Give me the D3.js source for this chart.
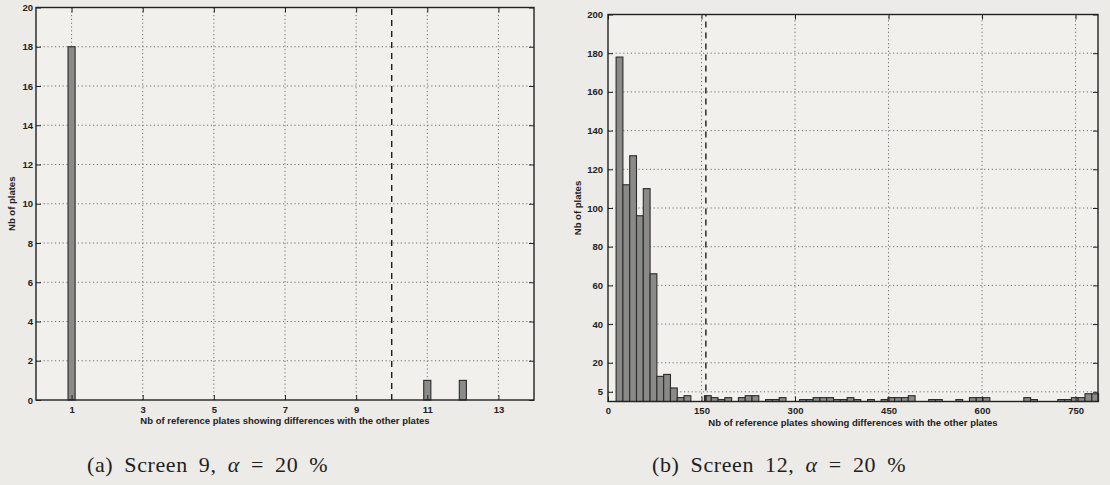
<!DOCTYPE html>
<html>
<head>
<meta charset="utf-8">
<script src="https://cdn.jsdelivr.net/npm/d3@7/dist/d3.min.js"></script>
<style>
  html, body { margin: 0; padding: 0; background: #ecebe7; }
  svg { display: block; }
  .tick text { font-family: "Liberation Sans", Arial, sans-serif; font-weight: bold; font-size: 9.5px; fill: #222; }
  .tick line { stroke: #222; stroke-width: 1; }
  .domain { display: none; }
</style>
</head>
<body>
<script>
// Panel (a): screen 9 — number of plates per count of differing reference plates
const screen9Values = [1, 11, 12];
const screen9Counts = [18, 1, 1];
const screen9XTicks = [1, 3, 5, 7, 9, 11, 13];
const screen9YTicks = [0, 2, 4, 6, 8, 10, 12, 14, 16, 18, 20];
const screen9Threshold = 10;

// Panel (b): screen 12 — histogram with equal-width bins
const screen12BinStart = 13;
const screen12BinWidth = 10.9;
const screen12Counts = [
  178, 112, 127, 96, 110, 66, 13, 14, 7, 2, 3,
  0, 0, 3, 2, 1, 2, 0, 2, 3, 3, 0,
  1, 1, 2, 0, 0, 1, 1, 2, 2, 2,
  1, 1, 2, 1, 0, 1, 0, 1, 2, 2,
  2, 3, 0, 0, 1, 1, 0, 0, 1, 0,
  2, 2, 2, 0, 0, 0, 0, 0, 2, 1,
  0, 0, 0, 1, 1, 2, 2, 4, 4
];
const screen12XTicks = [0, 150, 300, 450, 600, 750];
const screen12YTicks = [5, 20, 40, 60, 80, 100, 120, 140, 160, 180, 200];
const screen12Threshold = 157;

const xLabelText = "Nb of reference plates showing differences with the other plates";
const yLabelText = "Nb of plates";

const W = 1110, H = 485;
const svg = d3.select("body").append("svg").attr("width", W).attr("height", H);

svg.append("rect").attr("width", W).attr("height", H).attr("fill", "#ecebe7");

function drawPanel(cfg) {
  const { x, y, xTicks, yTicks, yLabelPad, ylabelX } = cfg;
  const [x0, x1] = x.range();
  const [y0, y1] = y.range(); // y0 bottom, y1 top
  const g = svg.append("g");

  // plot background
  g.append("rect")
    .attr("x", x0).attr("y", y1)
    .attr("width", x1 - x0).attr("height", y0 - y1)
    .attr("fill", "#f1f0ec");

  // dotted grid
  const grid = g.append("g").attr("stroke", "#6f6f6f").attr("stroke-width", 1)
    .attr("stroke-dasharray", "1.2,2.6");
  grid.selectAll(".gx").data(xTicks.filter(t => x(t) > x0 + 1 && x(t) < x1 - 1))
    .join("line")
    .attr("x1", d => x(d)).attr("x2", d => x(d))
    .attr("y1", y0).attr("y2", y1);
  grid.selectAll(".gy").data(yTicks.filter(t => y(t) < y0 - 1 && y(t) > y1 + 1))
    .join("line")
    .attr("x1", x0).attr("x2", x1)
    .attr("y1", d => y(d)).attr("y2", d => y(d));

  // bars
  g.append("g").selectAll("rect").data(cfg.bars)
    .join("rect")
    .attr("x", d => x(d.lo))
    .attr("width", d => x(d.hi) - x(d.lo))
    .attr("y", d => y(d.count))
    .attr("height", d => y(0) - y(d.count))
    .attr("fill", "#8a8a88")
    .attr("stroke", "#2b2b2b")
    .attr("stroke-width", 1.1);

  // threshold line
  g.append("line")
    .attr("x1", x(cfg.threshold)).attr("x2", x(cfg.threshold))
    .attr("y1", y0).attr("y2", y1)
    .attr("stroke", "#1d1d1d").attr("stroke-width", 1.4)
    .attr("stroke-dasharray", "6,5");

  // axes with inward ticks on all four sides
  g.append("g").attr("transform", `translate(0,${y0})`)
    .call(d3.axisBottom(x).tickValues(xTicks).tickSizeInner(-5).tickSizeOuter(0).tickPadding(6));
  g.append("g").attr("transform", `translate(0,${y1})`)
    .call(d3.axisTop(x).tickValues(xTicks).tickSizeInner(-5).tickSizeOuter(0).tickFormat(""));
  g.append("g").attr("transform", `translate(${x0},0)`)
    .call(d3.axisLeft(y).tickValues(yTicks).tickSizeInner(-5).tickSizeOuter(0).tickPadding(yLabelPad));
  g.append("g").attr("transform", `translate(${x1},0)`)
    .call(d3.axisRight(y).tickValues(yTicks).tickSizeInner(-5).tickSizeOuter(0).tickFormat(""));

  // frame
  g.append("rect")
    .attr("x", x0).attr("y", y1)
    .attr("width", x1 - x0).attr("height", y0 - y1)
    .attr("fill", "none").attr("stroke", "#222").attr("stroke-width", 1.4);

  // axis titles
  g.append("text")
    .attr("x", (x0 + x1) / 2).attr("y", y0 + 24)
    .attr("text-anchor", "middle")
    .attr("font-family", "Liberation Sans, Arial, sans-serif")
    .attr("font-weight", "bold").attr("font-size", 9.5).attr("fill", "#222")
    .text(xLabelText);
  g.append("text")
    .attr("transform", `translate(${ylabelX},${(y0 + y1) / 2}) rotate(-90)`)
    .attr("text-anchor", "middle")
    .attr("font-family", "Liberation Sans, Arial, sans-serif")
    .attr("font-weight", "bold").attr("font-size", 9.5).attr("fill", "#222")
    .text(yLabelText);

  // caption
  const cap = svg.append("text")
    .attr("x", cfg.capX).attr("y", 472)
    .attr("font-family", "Liberation Serif, serif")
    .attr("font-size", 22).attr("fill", "#1e1e1e")
    .attr("letter-spacing", 0.6).attr("word-spacing", 5);
  cap.append("tspan").text(cfg.capLead);
  cap.append("tspan").attr("font-style", "italic").text("α");
  cap.append("tspan").text(" = 20 %");
}

// Panel (a)
const xa = d3.scaleLinear().domain([0, 14]).range([36, 534]);
const ya = d3.scaleLinear().domain([0, 20]).range([400, 7.5]);
drawPanel({
  x: xa, y: ya,
  xTicks: screen9XTicks, yTicks: screen9YTicks,
  bars: screen9Values.map((v, i) => ({ lo: v - 0.1, hi: v + 0.1, count: screen9Counts[i] })),
  threshold: screen9Threshold,
  yLabelPad: 3, ylabelX: 15,
  capX: 87, capLead: "(a) Screen 9, "
});

// Panel (b)
const xb = d3.scaleLinear().domain([0, 786]).range([608, 1098]);
const yb = d3.scaleLinear().domain([0, 200]).range([401.5, 14.5]);
drawPanel({
  x: xb, y: yb,
  xTicks: screen12XTicks, yTicks: screen12YTicks,
  bars: screen12Counts.map((c, i) => ({
    lo: screen12BinStart + i * screen12BinWidth,
    hi: screen12BinStart + (i + 1) * screen12BinWidth,
    count: c
  })).filter(d => d.count > 0),
  threshold: screen12Threshold,
  yLabelPad: 5, ylabelX: 581,
  capX: 652, capLead: "(b) Screen 12, "
});
</script>
</body>
</html>
